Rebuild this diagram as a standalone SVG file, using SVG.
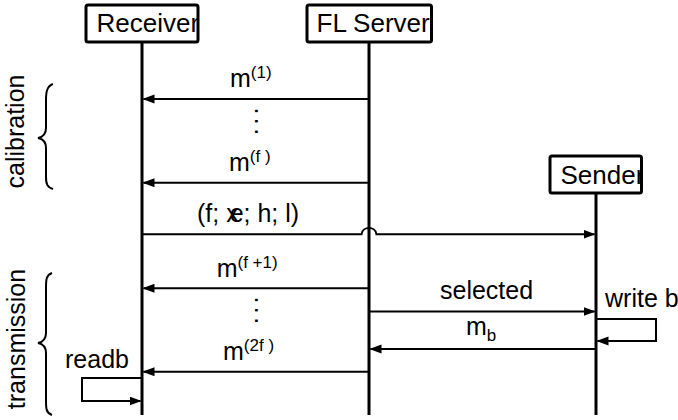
<svg xmlns="http://www.w3.org/2000/svg" width="678" height="420" viewBox="0 0 678 420">
<style>
text{font-family:"Liberation Sans",Arial,sans-serif;fill:#000}
.box{fill:#fff;stroke:#000;stroke-width:3}
.lt{font-size:26px}
.lbl{font-size:25px}
.sup{font-size:17px}
.life{stroke:#000;stroke-width:3;fill:none}
.msg{stroke:#000;stroke-width:2;fill:none;marker-end:url(#ah)}
.brace{stroke:#000;stroke-width:2;fill:none}
</style>
<defs>
<marker id="ah" markerUnits="userSpaceOnUse" markerWidth="12" markerHeight="10" refX="11" refY="4.5" orient="auto">
<path d="M0,0 L12,4.5 L0,9 z" fill="#000"/>
</marker>
<clipPath id="cR"><rect x="86" y="5" width="112" height="37"/></clipPath>
<clipPath id="cF"><rect x="307" y="5" width="124.5" height="37"/></clipPath>
<clipPath id="cS"><rect x="550" y="156" width="91.5" height="37"/></clipPath>
</defs>
<g id="lifelines">
<line class="life" x1="142" y1="42" x2="142" y2="415"/>
<line class="life" x1="369" y1="42" x2="369" y2="415"/>
<line class="life" x1="596" y1="193" x2="596" y2="415"/>
</g>
<g id="receiver">
<rect class="box" x="86" y="5" width="112" height="37" rx="2"/>
<text class="lt" x="96.5" y="32" clip-path="url(#cR)">Receiver</text>
</g>
<g id="flserver">
<rect class="box" x="307" y="5" width="124.5" height="37" rx="2"/>
<text class="lt" x="316.5" y="32" clip-path="url(#cF)">FL Server</text>
</g>
<g id="sender">
<rect class="box" x="550" y="156" width="91.5" height="37" rx="2"/>
<text class="lt" x="560.5" y="184" clip-path="url(#cS)">Sender</text>
</g>
<g id="phases">
<text class="lbl" transform="translate(24,131.5) rotate(-90)" text-anchor="middle">calibration</text>
<path class="brace" d="M53,84 C47,86 46,92 46,100 L46,128 C46,134 43,137 38,138 C43,139 46,142 46,148 L46,177 C46,184 47,187 53,189"/>
<text class="lbl" transform="translate(25,339) rotate(-90)" text-anchor="middle">transmission</text>
<path class="brace" d="M52,273 C46,275 46,280 46,288 L46,333 C46,339 43,342 38,343 C43,344 46,347 46,353 L46,401 C46,408 46,413 52,415"/>
</g>
<g id="connectors">
<path class="msg" d="M369,99 H143.5"/>
<path class="msg" d="M369,182.7 H143.5"/>
<path class="msg" d="M142,234.3 H361.5 C362.5,226 375.5,226 376.5,234.3 H594.5"/>
<path class="msg" d="M369,288.3 H143.5"/>
<path class="msg" d="M369,311.5 H594.5"/>
<path class="msg" d="M596,349 H370.5"/>
<path class="msg" d="M369,371.7 H143.5"/>
<path class="msg" d="M142,378 H82 V401 H140.5"/>
<path class="msg" d="M596,319 H656 V341 H597.5"/>
</g>
<g id="labels">
<text class="lbl" x="230" y="87">m<tspan class="sup" dy="-9">(1)</tspan></text>
<text class="lbl" x="229" y="170.7">m<tspan class="sup" dy="-9">(f )</tspan></text>
<text class="lbl" x="197" y="221.7">(f;  x<tspan dx="-9">e</tspan>; h; l)</text>
<text class="lbl" x="216.7" y="276.7">m<tspan class="sup" dy="-9">(f +1)</tspan></text>
<text class="lbl" x="223" y="360">m<tspan class="sup" dy="-9">(2f )</tspan></text>
<text class="lbl" x="440" y="298.5">selected</text>
<text class="lbl" x="466" y="335">m<tspan class="sup" dy="6">b</tspan></text>
<text class="lbl" x="605" y="306.7">write b</text>
<text class="lbl" x="65" y="368">readb</text>
<text class="lbl" transform="translate(254.7,107.5) rotate(90)" letter-spacing="3.4">...</text>
<text class="lbl" transform="translate(254.7,296.5) rotate(90)" letter-spacing="3.4">...</text>
</g>
</svg>
